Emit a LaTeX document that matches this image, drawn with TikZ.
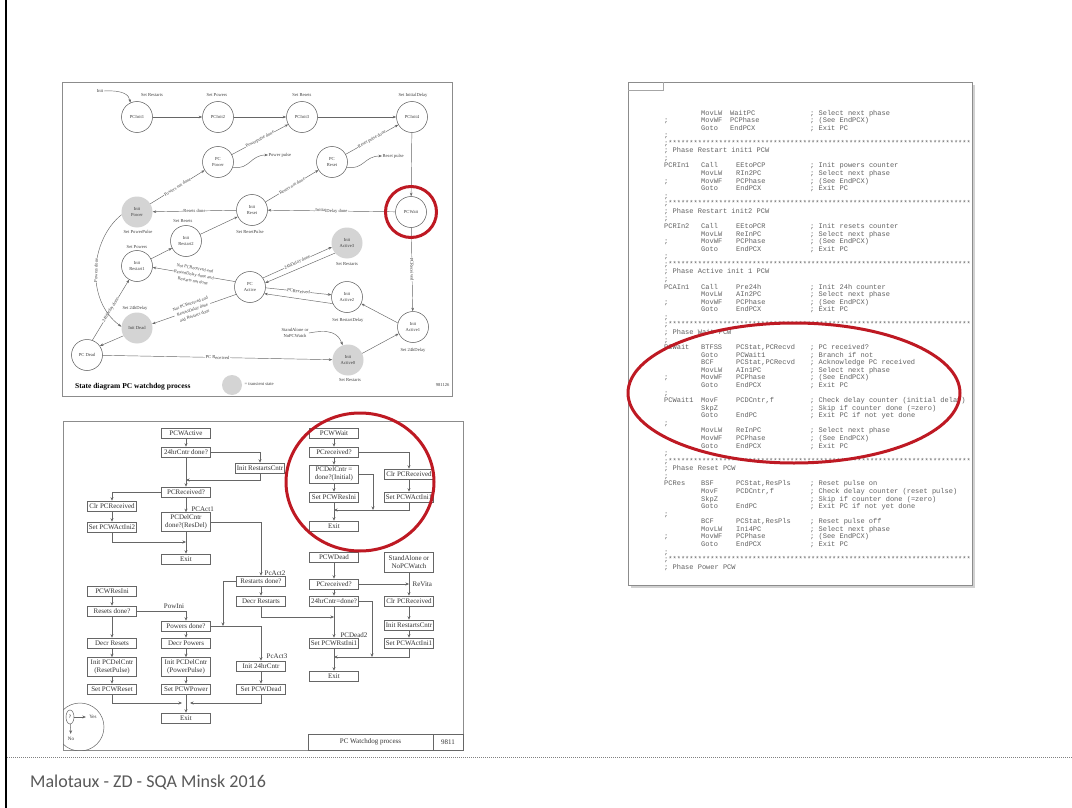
\documentclass[tikz,border=0pt]{standalone}
\usepackage{fontspec}
\setmainfont{Liberation Serif}
\setmonofont{Liberation Mono}
\newfontfamily\footfont{Carlito}
\usetikzlibrary{arrows.meta,shapes.geometric,calc}
\definecolor{ringred}{RGB}{190,25,35}
\newcount\lnum
\def\sst{************************}
\newcommand\cdnext{\global\advance\lnum by 1\relax\pgfmathsetmacro\yy{115+7.57*(\the\lnum-1)}}
\newcommand\codeln[4]{\cdnext\node[code,anchor=base west] at (664,\yy) {\makebox[37pt][l]{#1}\makebox[35pt][l]{#2}\makebox[74pt][l]{#3}#4};}
\newcommand\codelnb[4]{\cdnext\node[code,anchor=base west] at (664,\yy) {\makebox[37pt][l]{#1}\makebox[29pt][l]{#2}\makebox[80pt][l]{#3}#4};}
\newcommand\codefull[1]{\cdnext\node[code,anchor=base west] at (664,\yy) {#1};}
\newcommand\starline{\codefull{;\sst\sst\sst}}
\begin{document}
\begin{tikzpicture}[x=1pt,y=-1pt,
  sdt/.style={font=\fontsize{4.6}{5.2}\selectfont, text=black!75, align=center, inner sep=0.4pt},
  st/.style={circle, draw=black!65, line width=0.5pt, minimum size=31pt, inner sep=0pt, font=\fontsize{4.6}{5.2}\selectfont, text=black!75, align=center},
  tst/.style={circle, fill=black!17, minimum size=31pt, inner sep=0pt, font=\fontsize{4.6}{5.2}\selectfont, text=black!75, align=center},
  sa/.style={draw=black!60, line width=0.45pt, -{Stealth[length=3.5pt,width=2.6pt]}},
  el/.style={sdt, fill=white, sloped},
  ml/.style={el, font=\fontsize{4.4}{6.4}\selectfont},
  fb/.style={draw=black!60, line width=0.6pt, fill=white, minimum width=49pt, minimum height=10pt, inner sep=0.4pt, font=\fontsize{7}{7.4}\selectfont, text=black!80, align=center},
  fa/.style={draw=black!60, line width=0.6pt, -{Stealth[length=3.5pt,width=3pt]}},
  flab/.style={font=\fontsize{7}{7.4}\selectfont, text=black!80, inner sep=0.4pt},
  code/.style={font=\ttfamily\fontsize{7}{7}\selectfont, text=black!62, inner sep=0pt},
  pframe/.style={draw=black!45, line width=0.8pt, fill=white},
  ring/.style={draw=ringred, line width=3pt}]
\fill[white] (0,0) rectangle (1072,808);
\useasboundingbox (0,0) rectangle (1072,808);
\draw[black, line width=1.5pt] (6,0) -- (6,808);
% frames
\draw[pframe] (62,82) rectangle (452,396);
\draw[pframe] (63,421) rectangle (463,750);
\fill[black!18] (631,85) rectangle (975,588);
\draw[pframe] (628,82) rectangle (972,585);
\draw[black!35, line width=0.6pt] (628,90) -- (663,90) -- (663,82);
% ================= state diagram
\node[st] (p1) at (137,117) {PCInit1};
\node[st] (p2) at (218,117) {PCInit2};
\node[st] (p3) at (302,117) {PCInit3};
\node[st] (p4) at (412,117) {PCInit4};
\node[sdt] (l1) at (152,95) {Set Restarts};
\node[sdt] (l2) at (217,95) {Set Powers};
\node[sdt] (l3) at (302,95) {Set Resets};
\node[sdt] (l4) at (413,95) {Set InitialDelay};
\node[sdt] (init) at (100,91) {Init};
\node[st] (ppow) at (218,162) {PC\\Power};
\node[st] (pres) at (332,162) {PC\\Reset};
\node[sdt, anchor=west] (ppul) at (268,155) {Power pulse};
\node[sdt, anchor=west] (rpul) at (382,156) {Reset pulse};
\node[st] (pcw) at (411,212) {PCWait};
\node[st] (ires) at (252,210) {Init\\Reset};
\node[tst] (ipow) at (137,212) {Init\\Power};
\node[sdt] (lspp) at (138,232) {Set PowerPulse};
\node[sdt] (lsrp) at (250,232) {Set ResetPulse};
\node[st] (ir2) at (186,241) {Init\\Restart2};
\node[sdt] (lsre) at (183,221) {Set Resets};
\node[st] (ir1) at (137,266) {Init\\Restart1};
\node[sdt] (lspw) at (137,247) {Set Powers};
\node[st] (pca) at (250,287) {PC\\Active};
\node[tst] (ia3) at (347,243) {Init\\Active3};
\node[sdt] (lia3) at (347,264) {Set Restarts};
\node[st] (ia2) at (347,297) {Init\\Active2};
\node[sdt] (lia2) at (348,320) {Set RestartDelay};
\node[st] (ia1) at (413,327) {Init\\Active1};
\node[sdt] (lia1) at (413,350) {Set 24hDelay};
\node[tst] (idead) at (137,328) {Init Dead};
\node[sdt] (lid) at (135,308) {Set 24hDelay};
\node[st] (pcd) at (87,355) {PC Dead};
\node[tst] (ia0) at (348,360) {Init\\Active0};
\node[sdt] (lia0) at (350,380) {Set Restarts};
\node[sdt] (sanp) at (295,333) {StandAlone or\\NoPCWatch};
\draw[sa] (init.east) .. controls (124,90) and (129,95) .. (p1.115);
\draw[sa] (p1) -- (p2);
\draw[sa] (p2) -- (p3);
\draw[sa] (p3) -- (p4);
\draw[sa] (ppow.-20) .. controls (250,170) and (250,155) .. (ppul.west);
\draw[sa] (pres.-20) .. controls (364,170) and (364,156) .. (rpul.west);
\draw[sa] (ipow) -- node[el]{Powers not done} (ppow);
\draw[sa] (ppow) -- node[el]{Powerpulse done} (p3);
\draw[sa] (ires) -- node[el]{Resets not done} (pres);
\draw[sa] (pres) -- node[el]{Reset pulse done} (p4);
\draw[sa] (p4) -- (pcw);
\draw[sa] (pcw) -- node[el]{InitialDelay done} (ires);
\draw[sa] (ires) -- node[el]{Resets done} (ipow);
\draw[sa] (pcw) -- node[el]{PCReceived} (ia1);
\draw[sa] (ir1) -- (ir2);
\draw[sa] (ir2) -- (ires);
\draw[sa] (pca.35) -- node[el]{24hDelay done} (ia3.195);
\draw[sa] (ia3.220) -- (pca.15);
\draw[sa] (pca.-3) -- node[el]{PCReceived} (ia2.172);
\draw[sa] (ia2.205) -- (pca.-25);
\draw[sa] (ia1.165) -- (ia2.-25);
\draw[sa] (ia0.25) -- (ia1.205);
\draw[sa] (sanp.east) .. controls (330,329) and (338,333) .. (ia0.110);
\draw[sa] (pcd) -- node[el]{PC Received} (ia0);
\draw[sa] (pca.160) -- node[ml]{Not PCReceived and\\RestartDelay done and\\Restarts not done} (ir1.-5);
\draw[sa] (pca.208) -- node[ml, pos=0.52]{Not PCReceived and\\RestartDelay done\\and Restarts done} (idead.15);
\draw[sa] (idead.210) -- (pcd.35);
\draw[sa] (pcd.70) -- node[el]{24hDelay done} (ir1.240);
\draw[sa] (ipow.190) .. controls (90,240) and (85,300) .. (idead.175) node[el,pos=0.5]{Powers done};
\node[circle, fill=black!17, minimum size=20pt] (legc) at (232,385) {};
\node[sdt, anchor=west] (legt) at (244,384) {= transient state};
\node[font=\bfseries\fontsize{7.5}{8}\selectfont, anchor=west, inner sep=0pt] (sdtitle) at (75,387) {State diagram PC watchdog process};
\node[sdt, anchor=east] (sdnum) at (450,385) {981126};
\draw[ring] (pcw) circle[radius=25.5];
% ================= flowchart
\node[fb] (pcwa) at (186,433) {PCWActive};
\node[fb] (q24) at (186,452) {24hrCntr done?};
\node[fb] (irc) at (260,468) {Init RestartsCntr};
\node[fb] (pcr) at (186,492) {PCReceived?};
\node[fb] (clr1) at (112,506) {Clr PCReceived};
\node[fb] (sai2) at (112,527) {Set PCWActIni2};
\node[fb, minimum height=19pt] (pcdel) at (186,522) {PCDelCntr\\done?(ResDel)};
\node[fb] (ex1) at (186,559) {Exit};
\coordinate (j1) at (186,480);
\coordinate (j2) at (186,542);
\draw[fa] (pcwa) -- (q24);
\draw[fa] (q24.east) -| (irc.north);
\draw[fa] (irc.south) |- (j1);
\draw[fa] (q24) -- (pcr);
\draw[fa] (pcr.west) -| (clr1.north);
\draw[fa] (clr1) -- (sai2);
\draw[fa] (sai2.south) |- (j2);
\draw[fa] (pcr) -- (pcdel);
\node[flab, anchor=west] (pa1) at (191,509) {PCAct1};
\draw[fa] (pcdel) -- (ex1);
\node[fb] (pri) at (112,591) {PCWResIni};
\node[fb] (resd) at (112,611) {Resets done?};
\node[fb] (restd) at (261,581) {Restarts done?};
\node[fb] (decrr) at (261,601) {Decr Restarts};
\node[fb] (powd) at (186,626) {Powers done?};
\node[fb] (decres) at (112,643) {Decr Resets};
\node[fb] (decpow) at (186,643) {Decr Powers};
\node[fb, minimum height=19pt] (ipr) at (112,667) {Init PCDelCntr\\(ResetPulse)};
\node[fb, minimum height=19pt] (ipp) at (186,667) {Init PCDelCntr\\(PowerPulse)};
\node[fb] (i24) at (261,666) {Init 24hrCntr};
\node[fb] (spr) at (112,689) {Set PCWReset};
\node[fb] (spp) at (186,689) {Set PCWPower};
\node[fb] (spd) at (261,689) {Set PCWDead};
\node[fb] (ex2) at (186,718) {Exit};
\draw[fa] (pcdel.east) -| (restd.north);
\node[flab] (pa2) at (275,573) {PcAct2};
\coordinate (m1) at (182,703);
\coordinate (m2) at (190,703);
\coordinate (j3) at (223,626);
\coordinate (j4) at (334,617);
\draw[fa] (pri) -- (resd);
\draw[fa] (resd.east) -| (powd.north);
\node[flab] (pwi) at (174,606) {PowIni};
\draw[fa] (resd) -- (decres);
\draw[fa] (decres) -- (ipr);
\draw[fa] (ipr) -- (spr);
\draw[fa] (spr.south) |- (m1);
\draw[fa] (powd) -- (decpow);
\draw[fa] (decpow) -- (ipp);
\draw[fa] (ipp) -- (spp);
\draw[fa] (spp) -- (ex2);
\draw[fa] (powd.east) -| (i24.north);
\node[flab] (pa3) at (277,656) {PcAct3};
\draw[fa] (i24) -- (spd);
\draw[fa] (spd.south) |- (m2);
\draw[fa] (restd.west) -| (j3);
\draw[fa] (restd) -- (decrr);
\draw[fa] (decrr.south) |- (j4);
% circled part
\node[fb] (pcww) at (334,433) {PCWWait};
\node[fb] (pcr1) at (334,452) {PCreceived?};
\node[fb, minimum height=18pt] (pcdi) at (334,474) {PCDelCntr =\\done?(Initial)};
\node[fb] (clr2) at (409,474) {Clr PCReceived};
\node[fb] (spri) at (334,497) {Set PCWResIni};
\node[fb] (sai1) at (409,497) {Set PCWActIni1};
\node[fb] (ex3) at (334,526) {Exit};
\coordinate (j5) at (334,510);
\coordinate (j6) at (373,510);
\draw[fa] (pcww) -- (pcr1);
\draw[fa] (pcr1) -- (pcdi);
\draw[fa] (pcdi) -- (spri);
\draw[fa] (spri) -- (ex3);
\draw[fa] (pcr1.east) -| (clr2.north);
\draw[fa] (clr2) -- (sai1);
\draw[fa] (sai1.south) |- (j5);
\draw[fa] (pcdi.east) -| (j6);
% dead part
\node[fb] (pcwd) at (334,557) {PCWDead};
\node[fb, minimum height=20pt] (sanw) at (409,562) {StandAlone or\\NoPCWatch};
\node[fb] (pcr2) at (334,584) {PCreceived?};
\node[fb] (q24b) at (334,601) {24hrCntr=done?};
\node[fb] (clr3) at (409,601) {Clr PCReceived};
\node[fb] (irc2) at (409,625) {Init RestartsCntr};
\node[fb] (sai1b) at (409,643) {Set PCWActIni1};
\node[fb] (srst) at (334,643) {Set PCWRstIni1};
\node[fb] (ex4) at (334,676) {Exit};
\coordinate (j7) at (409,584);
\coordinate (j8) at (334,657);
\coordinate (j9) at (372,657);
\draw[fa] (pcwd) -- (pcr2);
\draw[fa] (pcr2) -- (q24b);
\draw[fa] (q24b) -- (srst);
\node[flab] (pd2) at (354,635) {PCDead2};
\draw[fa] (srst) -- (ex4);
\draw[fa] (pcr2.east) -- (j7);
\node[flab, anchor=west] (rv) at (412,584) {ReVita};
\draw[fa] (sanw) -- (clr3);
\draw[fa] (clr3) -- (irc2);
\draw[fa] (irc2) -- (sai1b);
\draw[fa] (sai1b.south) |- (j8);
\draw[fa] (q24b.east) -| (j9);
% legend and title block
\begin{scope}
\clip (63,421) rectangle (463,750);
\draw[black!60, line width=0.5pt] (80,727) circle[radius=24];
\end{scope}
\node[ellipse, draw=black!60, line width=0.5pt, minimum width=8pt, minimum height=14pt, inner sep=0pt, font=\fontsize{5}{5}\selectfont] (qm) at (70,717) {?};
\node[font=\fontsize{5}{5}\selectfont, text=black!80] (yes) at (93,717) {Yes};
\node[font=\fontsize{5}{5}\selectfont, text=black!80] (no) at (71,739) {No};
\draw[fa, line width=0.5pt] (qm) -- (yes);
\draw[fa, line width=0.5pt] (qm) -- (no);
\node[draw=black!60, line width=0.6pt, minimum width=125pt, minimum height=16pt, inner sep=0pt, font=\fontsize{7}{7}\selectfont, text=black!80] (ttl) at (370.5,742) {PC Watchdog process};
\node[draw=black!60, line width=0.6pt, minimum width=30pt, minimum height=16pt, inner sep=0pt, font=\fontsize{7}{7}\selectfont, text=black!80] (tnum) at (448,742) {9811};
\draw[ring] (360,482) ellipse[x radius=74, y radius=69];
% ================= code listing
\codelnb{}{MovLW}{WaitPC}{; Select next phase}
\codelnb{;}{MovWF}{PCPhase}{; (See EndPCX)}
\codelnb{}{Goto}{EndPCX}{; Exit PC}
\codefull{;}
\starline
\codefull{; Phase Restart init1 PCW}
\codefull{;}
\codeln{PCRIn1}{Call}{EEtoPCP}{; Init powers counter}
\codeln{}{MovLW}{RIn2PC}{; Select next phase}
\codeln{;}{MovWF}{PCPhase}{; (See EndPCX)}
\codeln{}{Goto}{EndPCX}{; Exit PC}
\codefull{;}
\starline
\codefull{; Phase Restart init2 PCW}
\codefull{;}
\codeln{PCRIn2}{Call}{EEtoPCR}{; Init resets counter}
\codeln{}{MovLW}{ReInPC}{; Select next phase}
\codeln{;}{MovWF}{PCPhase}{; (See EndPCX)}
\codeln{}{Goto}{EndPCX}{; Exit PC}
\codefull{;}
\starline
\codefull{; Phase Active init 1 PCW}
\codefull{;}
\codeln{PCAIn1}{Call}{Pre24h}{; Init 24h counter}
\codeln{}{MovLW}{AIn2PC}{; Select next phase}
\codeln{;}{MovWF}{PCPhase}{; (See EndPCX)}
\codeln{}{Goto}{EndPCX}{; Exit PC}
\codefull{;}
\starline
\codefull{; Phase Wait PCW}
\codefull{;}
\codeln{PCWait}{BTFSS}{PCStat,PCRecvd}{; PC received?}
\codeln{}{Goto}{PCWait1}{; Branch if not}
\codeln{}{BCF}{PCStat,PCRecvd}{; Acknowledge PC received}
\codeln{}{MovLW}{AIn1PC}{; Select next phase}
\codeln{;}{MovWF}{PCPhase}{; (See EndPCX)}
\codeln{}{Goto}{EndPCX}{; Exit PC}
\codefull{;}
\codeln{PCWait1}{MovF}{PCDCntr,f}{; Check delay counter (initial delay)}
\codeln{}{SkpZ}{}{; Skip if counter done (=zero)}
\codeln{}{Goto}{EndPC}{; Exit PC if not yet done}
\codefull{;}
\codeln{}{MovLW}{ReInPC}{; Select next phase}
\codeln{}{MovWF}{PCPhase}{; (See EndPCX)}
\codeln{}{Goto}{EndPCX}{; Exit PC}
\codefull{;}
\starline
\codefull{; Phase Reset PCW}
\codefull{;}
\codeln{PCRes}{BSF}{PCStat,ResPls}{; Reset pulse on}
\codeln{}{MovF}{PCDCntr,f}{; Check delay counter (reset pulse)}
\codeln{}{SkpZ}{}{; Skip if counter done (=zero)}
\codeln{}{Goto}{EndPC}{; Exit PC if not yet done}
\codefull{;}
\codeln{}{BCF}{PCStat,ResPls}{; Reset pulse off}
\codeln{}{MovLW}{Ini4PC}{; Select next phase}
\codeln{;}{MovWF}{PCPhase}{; (See EndPCX)}
\codeln{}{Goto}{EndPCX}{; Exit PC}
\codefull{;}
\starline
\codefull{; Phase Power PCW}
\draw[ring] (794,393) ellipse[x radius=166, y radius=70];
% ================= footer
\draw[black!50, line width=0.8pt, dash pattern=on 1pt off 1pt] (7,757) -- (1072,757);
\node[font=\footfont\fontsize{18}{18}\selectfont, text=black!65, anchor=base west, inner sep=0pt] (foot) at (30,787) {Malotaux - ZD - SQA Minsk 2016};
\end{tikzpicture}
\end{document}
